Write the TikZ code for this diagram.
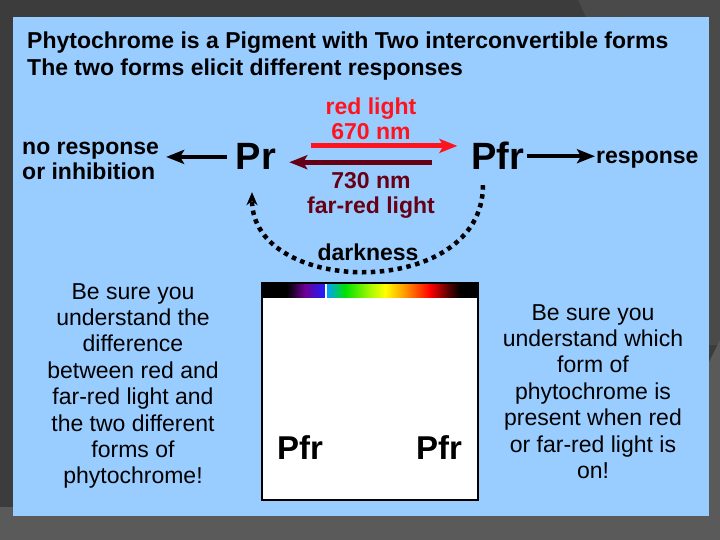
\documentclass[tikz,border=0pt]{standalone}
\usepackage{fontspec}
\setmainfont{Liberation Sans}
\usetikzlibrary{arrows.meta,positioning}
\definecolor{bgdark}{RGB}{60,60,60}
\definecolor{bgmid}{RGB}{74,74,74}
\definecolor{bggray}{RGB}{90,90,90}
\definecolor{panelblue}{RGB}{153,204,255}
\definecolor{redlight}{RGB}{255,20,30}
\definecolor{farred}{RGB}{102,0,20}
\definecolor{spviolet}{RGB}{110,0,150}
\definecolor{spblue}{RGB}{30,30,255}
\definecolor{spcyan}{RGB}{0,160,255}
\definecolor{spgreen}{RGB}{0,225,0}
\definecolor{splime}{RGB}{180,250,0}
\definecolor{spyellow}{RGB}{255,255,0}
\definecolor{sporange}{RGB}{255,150,0}
\definecolor{spred}{RGB}{255,0,0}
\definecolor{spdark}{RGB}{100,0,0}

\begin{document}
\begin{tikzpicture}[x=1pt,y=-1pt,
  lbl/.style={font=\bfseries\fontsize{23}{25}\selectfont,inner sep=0pt,align=center},
  form/.style={font=\bfseries\fontsize{38}{40}\selectfont,inner sep=0pt},
  note/.style={font=\fontsize{23}{26.4}\selectfont,align=center,inner sep=0pt},
  fat/.style={line width=4pt,-{Stealth[length=18pt,width=14pt,inset=4pt]}},
  darkarc/.style={line width=4.5pt,dash pattern=on 4.5pt off 4.5pt,-{Stealth[length=13pt,width=11pt]}}]
\useasboundingbox (0,0) rectangle (720,540);
\fill[bgdark] (0,0) rectangle (720,540);
\fill[bgmid] (578,0) -- (720,0) -- (720,345) -- (709,345) -- (709,17) -- (586,17) -- cycle;
\fill[bggray] (0,507) -- (709,507) -- (709,362) -- (720,340) -- (720,540) -- (0,540) -- cycle;
\fill[panelblue] (13,17) rectangle (709,516);

\node[lbl,anchor=north west,align=left,font=\bfseries\fontsize{23}{27}\selectfont] (title) at (27,32)
  {Phytochrome is a Pigment with Two interconvertible forms\\The two forms elicit different responses};

\node[form,anchor=base] (pr) at (256,170) {Pr};
\node[form,anchor=base] (pfr) at (498,170) {Pfr};
\node[lbl,text=redlight] (redlbl) at (371,119) {red light\\670 nm};
\node[lbl,text=farred] (farlbl) at (371,195) {730 nm\\far-red light};
\node[lbl,anchor=west,align=left] (nores) at (22,161) {no response\\or inhibition};
\node[lbl,anchor=west] (resp) at (596,160) {response};
\node[lbl] (dark) at (368,252) {darkness};

\draw[fat,shorten <=9pt,shorten >=7pt] (pr.west) -- (pr.west -| nores.east);
\draw[fat,shorten <=2pt,shorten >=1pt] (pfr.east) -- (pfr.east -| resp.west);
\draw[fat,line width=5pt,redlight,shorten <=35pt,shorten >=14pt] ([yshift=11pt]pr.east) -- ([yshift=11pt]pr.east -| pfr.west);
\draw[fat,line width=5pt,farred,shorten <=39pt,shorten >=13pt] ([yshift=-6pt]pfr.west) -- ([yshift=-6pt]pfr.west -| pr.east);
\draw[darkarc] ([xshift=-15pt,yshift=-15pt]pfr.south) .. controls +(0,115) and +(0,105) .. ([xshift=-4pt,yshift=-22pt]pr.south);

\node[fill=white,minimum width=216pt,minimum height=217pt,inner sep=0pt] (box) at (370,391.5) {};
\foreach \xa/\xb/\cl/\cr in
  {262/287/black/black, 287/305/black/spviolet, 305/325/spviolet/spblue, 325/327/white/white,%
   327/345/spcyan/spgreen, 345/372/spgreen/splime, 372/385/splime/spyellow, 385/405/spyellow/sporange,%
   405/430/sporange/spred, 430/447/spred/spdark, 447/460/spdark/black, 460/478/black/black}
    \shade[left color=\cl,right color=\cr] (\xa,283) rectangle (\xb,297);
\draw[line width=2.5pt] (box.north west) rectangle (box.south east);
\node[form,font=\bfseries\fontsize{33}{35}\selectfont,anchor=base] (pfra) at (300,459) {Pfr};
\node[form,font=\bfseries\fontsize{33}{35}\selectfont,anchor=base] (pfrb) at (439,459) {Pfr};

\node[note,anchor=north] (leftnote) at (133,283) {Be sure you\\understand the\\difference\\between red and\\far-red light and\\the two different\\forms of\\phytochrome!};
\node[note,anchor=north] (rightnote) at (593,304) {Be sure you\\understand which\\form of\\phytochrome is\\present when red\\or far-red light is\\on!};
\end{tikzpicture}
\end{document}
